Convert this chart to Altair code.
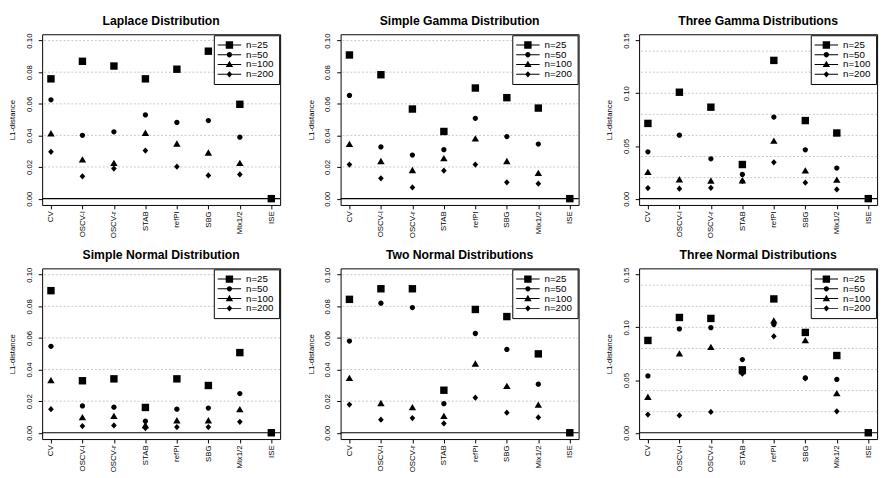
import altair as alt
import pandas as pd

methods = ["CV", "OSCV-l", "OSCV-r", "STAB", "refPI", "SBG", "Mix1/2", "ISE"]
series = ["n=25", "n=50", "n=100", "n=200"]

# Laplace Distribution
laplace_n25 = [0.0758, 0.0869, 0.0839, 0.0758, 0.0819, 0.0933, 0.0597, 0.0]
laplace_n50 = [0.0625, 0.0401, 0.0423, 0.0530, 0.0482, 0.0494, 0.0389, 0.0]
laplace_n100 = [0.0410, 0.0244, 0.0222, 0.0413, 0.0345, 0.0288, 0.0222, 0.0]
laplace_n200 = [0.0296, 0.0141, 0.0190, 0.0304, 0.0202, 0.0147, 0.0153, 0.0]

# Simple Gamma Distribution
sgamma_n25 = [0.0909, 0.0784, 0.0567, 0.0425, 0.0700, 0.0639, 0.0573, 0.0]
sgamma_n50 = [0.0653, 0.0327, 0.0276, 0.0310, 0.0508, 0.0393, 0.0345, 0.0]
sgamma_n100 = [0.0343, 0.0234, 0.0177, 0.0252, 0.0377, 0.0234, 0.0159, 0.0]
sgamma_n200 = [0.0216, 0.0129, 0.0071, 0.0177, 0.0216, 0.0103, 0.0095, 0.0]

# Three Gamma Distributions
tgamma_n25 = [0.0714, 0.1010, 0.0868, 0.0324, 0.1312, 0.0741, 0.0623, 0.0]
tgamma_n50 = [0.0445, 0.0602, 0.0378, 0.0230, 0.0774, 0.0463, 0.0290, 0.0]
tgamma_n100 = [0.0248, 0.0178, 0.0166, 0.0169, 0.0544, 0.0263, 0.0175, 0.0]
tgamma_n200 = [0.0100, 0.0094, 0.0103, 0.0166, 0.0345, 0.0151, 0.0088, 0.0]

# Simple Normal Distribution
snorm_n25 = [0.0899, 0.0329, 0.0341, 0.0160, 0.0341, 0.0299, 0.0507, 0.0]
snorm_n50 = [0.0547, 0.0170, 0.0162, 0.0073, 0.0149, 0.0156, 0.0248, 0.0]
snorm_n100 = [0.0329, 0.0095, 0.0103, 0.0045, 0.0075, 0.0075, 0.0145, 0.0]
snorm_n200 = [0.0149, 0.0042, 0.0046, 0.0030, 0.0036, 0.0036, 0.0069, 0.0]

# Two Normal Distributions
tnorm2_n25 = [0.0844, 0.0911, 0.0911, 0.0269, 0.0780, 0.0735, 0.0499, 0.0]
tnorm2_n50 = [0.0580, 0.0820, 0.0792, 0.0184, 0.0628, 0.0527, 0.0307, 0.0]
tnorm2_n100 = [0.0343, 0.0184, 0.0158, 0.0103, 0.0434, 0.0293, 0.0174, 0.0]
tnorm2_n200 = [0.0178, 0.0083, 0.0093, 0.0059, 0.0222, 0.0127, 0.0097, 0.0]

# Three Normal Distributions
tnorm3_n25 = [0.0876, 0.1094, 0.1085, 0.0597, 0.1270, 0.0952, 0.0733, 0.0]
tnorm3_n50 = [0.0539, 0.0985, 0.0997, 0.0694, 0.1027, 0.0520, 0.0506, 0.0]
tnorm3_n100 = [0.0336, 0.0748, 0.0809, 0.0579, 0.1060, 0.0873, 0.0370, 0.0]
tnorm3_n200 = [0.0173, 0.0164, 0.0197, 0.0561, 0.0915, 0.0515, 0.0203, 0.0]

titles = [
    "Laplace Distribution", "Simple Gamma Distribution", "Three Gamma Distributions",
    "Simple Normal Distribution", "Two Normal Distributions", "Three Normal Distributions",
]

ticks_010 = [0.0, 0.02, 0.04, 0.06, 0.08, 0.10]
ticks_015 = [0.0, 0.05, 0.10, 0.15]
grid_010 = [0.02, 0.04, 0.06, 0.08, 0.10]
grid_015 = [0.02, 0.04, 0.06, 0.08, 0.10, 0.12, 0.14]
baseline = [0.0]

# plot symbols: square, circle, triangle, diamond (pch 15, 16, 17, 18 look)
mark_paths = [
    "M-0.76,-0.76L0.76,-0.76L0.76,0.76L-0.76,0.76Z",
    "M-0.54,0A0.54,0.54,0,1,1,0.54,0A0.54,0.54,0,1,1,-0.54,0Z",
    "M0,-0.78L0.76,0.52L-0.76,0.52Z",
    "M0,-0.64L0.58,0L0,0.64L-0.58,0Z",
]
# legend keys: same symbols drawn over a thin horizontal line segment
LINE = "M-2.4,-0.1L2.4,-0.1L2.4,0.1L-2.4,0.1Z"
legend_paths = [LINE + p for p in mark_paths]

FONT = "Liberation Sans"
W, H = 244, 175


def panel(title, vals, ymax, ticks, grid):
    rows = []
    for s, arr in zip(series, vals):
        for m, v in zip(methods, arr):
            rows.append({"method": m, "series": s, "value": v})
    df = pd.DataFrame(rows)
    pad = ymax * 0.04
    yscale = alt.Scale(domain=[-pad, ymax + pad], nice=False, zero=False)
    xscale = alt.Scale(domain=methods, padding=0.28)
    yaxis = alt.Axis(
        values=ticks, format=".2f", title="L1-distance", grid=False, domain=False,
        labelAngle=270, labelAlign="center", labelBaseline="bottom",
        labelFontSize=8, titleFontSize=8, titleFontWeight="normal",
        tickSize=4, tickColor="black", labelColor="black", titleColor="black",
        labelPadding=5, titlePadding=9, labelFont=FONT, titleFont=FONT,
    )
    xaxis = alt.Axis(title=None, labelAngle=270, labelFontSize=8, labelFont=FONT,
                     labelColor="black", tickColor="black", tickSize=4,
                     domain=False, grid=False, labelPadding=2)
    gridl = alt.Chart(pd.DataFrame({"g": grid})).mark_rule(
        color="#b8b8b8", strokeDash=[2, 2], strokeWidth=0.8
    ).encode(y=alt.Y("g:Q", scale=yscale, axis=yaxis))
    zero = alt.Chart(pd.DataFrame({"z": baseline})).mark_rule(
        color="black", strokeWidth=1.2
    ).encode(y=alt.Y("z:Q", scale=yscale, axis=yaxis))
    pts = alt.Chart(df).mark_point(filled=True, size=100, opacity=1, color="black").encode(
        x=alt.X("method:N", sort=methods, scale=xscale, axis=xaxis),
        y=alt.Y("value:Q", scale=yscale, axis=yaxis),
        shape=alt.Shape("series:N", scale=alt.Scale(domain=series, range=mark_paths),
                        legend=None),
    )
    keys = alt.Chart(df).mark_point(filled=True, size=100, opacity=0, color="black").encode(
        x=alt.X("method:N", sort=methods, scale=xscale, axis=xaxis),
        y=alt.Y("value:Q", scale=yscale, axis=yaxis),
        shape=alt.Shape("series:N", scale=alt.Scale(domain=series, range=legend_paths),
                        legend=alt.Legend(
                            title=None, orient="top-right", offset=1,
                            fillColor="white", strokeColor="black", padding=5,
                            symbolSize=100, symbolStrokeWidth=0, symbolOpacity=1,
                            symbolFillColor="black", labelFontSize=10, labelFont=FONT,
                            labelColor="black", labelOffset=12, symbolOffset=6,
                            rowPadding=0, cornerRadius=0)),
    )
    return alt.layer(gridl, zero, pts, keys).resolve_scale(shape="independent").resolve_legend(
        shape="independent").properties(
        width=W, height=H,
        title=alt.TitleParams(title, fontSize=12.5, fontWeight="bold", font=FONT,
                              anchor="middle", offset=6, color="black"),
    )


p1 = panel(titles[0], [laplace_n25, laplace_n50, laplace_n100, laplace_n200], 0.10, ticks_010, grid_010)
p2 = panel(titles[1], [sgamma_n25, sgamma_n50, sgamma_n100, sgamma_n200], 0.10, ticks_010, grid_010)
p3 = panel(titles[2], [tgamma_n25, tgamma_n50, tgamma_n100, tgamma_n200], 0.15, ticks_015, grid_015)
p4 = panel(titles[3], [snorm_n25, snorm_n50, snorm_n100, snorm_n200], 0.10, ticks_010, grid_010)
p5 = panel(titles[4], [tnorm2_n25, tnorm2_n50, tnorm2_n100, tnorm2_n200], 0.10, ticks_010, grid_010)
p6 = panel(titles[5], [tnorm3_n25, tnorm3_n50, tnorm3_n100, tnorm3_n200], 0.15, ticks_015, grid_015)

row1 = alt.hconcat(p1, p2, p3, spacing=23).resolve_scale(
    x="independent", y="independent", shape="independent").resolve_legend(shape="independent")
row2 = alt.hconcat(p4, p5, p6, spacing=23).resolve_scale(
    x="independent", y="independent", shape="independent").resolve_legend(shape="independent")

chart = alt.vconcat(row1, row2, spacing=9, padding=0).resolve_scale(
    x="independent", y="independent", shape="independent").resolve_legend(
    shape="independent").configure(font=FONT, background="white").configure_view(
    stroke="black", strokeWidth=1)

chart.save("out.html", embed_options={"renderer": "svg", "actions": False})
